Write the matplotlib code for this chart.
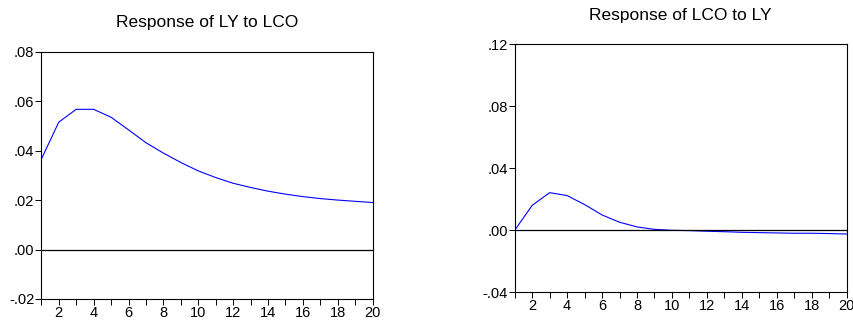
import matplotlib.pyplot as plt
from matplotlib.ticker import FuncFormatter, MultipleLocator

plt.rcParams['font.family'] = ['Liberation Sans', 'DejaVu Sans']

periods = list(range(1, 21))
ly_to_lco = [0.0365, 0.0515, 0.0567, 0.0567, 0.0535, 0.0484, 0.0432, 0.0390,
             0.0352, 0.0318, 0.0291, 0.0268, 0.0251, 0.0236, 0.0224, 0.0214,
             0.0206, 0.0200, 0.0195, 0.0190]
lco_to_ly = [0.0, 0.0161, 0.0243, 0.0224, 0.0166, 0.0099, 0.0052, 0.0022,
             0.0006, 0.0, -0.0002, -0.0006, -0.0009, -0.0013, -0.0015, -0.0017,
             -0.0019, -0.0019, -0.0021, -0.0024]
titles = ['Response of LY to LCO', 'Response of LCO to LY']


def fmt(v, pos):
    s = '%.2f' % v
    s = s.replace('0.', '.')
    if s == '-.00':
        s = '.00'
    return s


fig = plt.figure(figsize=(8.54, 3.2), dpi=100)
W, H = 854, 320
ax1 = fig.add_axes([41.3 / W, 1 - 299 / H, (372.7 - 41.3) / W, (299 - 51.7) / H])
ax2 = fig.add_axes([514.7 / W, 1 - 292.3 / H, (846.7 - 514.7) / W, (292.3 - 44.3) / H])

for ax, data, title, ylim, ystep, ty in [
        (ax1, ly_to_lco, titles[0], (-0.02, 0.08), 0.02, 22.7),
        (ax2, lco_to_ly, titles[1], (-0.04, 0.12), 0.04, 15.7)]:
    ax.plot(periods, data, color='#0000ff', lw=0.8)
    ax.axhline(0, color='black', lw=0.9)
    ax.set_xlim(1, 20)
    ax.set_ylim(*ylim)
    ax.xaxis.set_major_locator(MultipleLocator(2))
    ax.xaxis.set_minor_locator(MultipleLocator(1))
    ax.yaxis.set_major_locator(MultipleLocator(ystep))
    ax.yaxis.set_major_formatter(FuncFormatter(fmt))
    ax.tick_params(axis='both', which='major', direction='out', length=4,
                   width=0.7, labelsize=10.5, pad=1)
    ax.tick_params(axis='x', which='minor', direction='out', length=4, width=0.7)
    for sp in ax.spines.values():
        sp.set_linewidth(0.8)
    bb = ax.get_position()
    fig.text((bb.x0 + bb.x1) / 2, 1 - ty / H, title, ha='center', va='center',
             fontsize=12.5)

fig.savefig('out.png', dpi=100)
